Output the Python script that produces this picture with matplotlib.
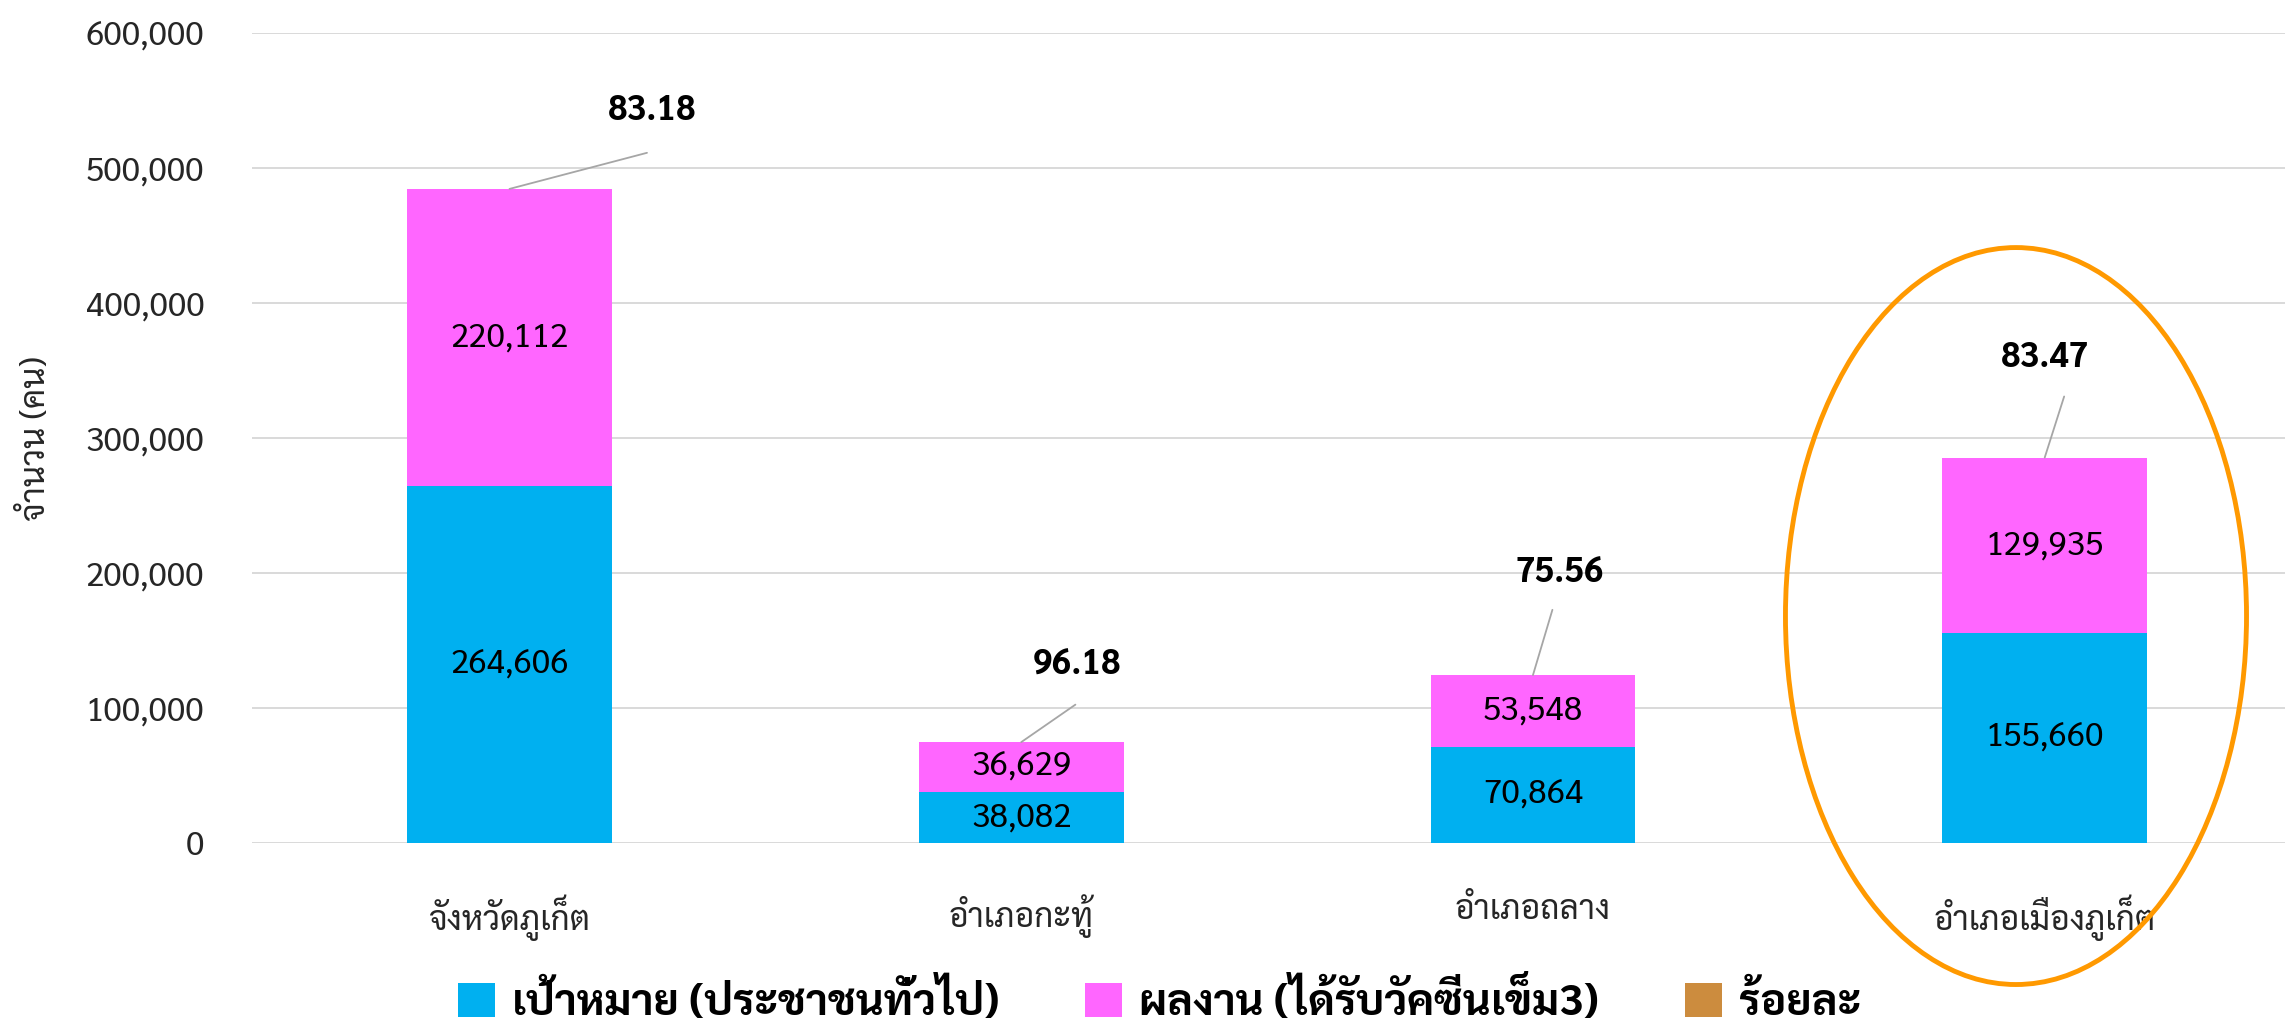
import matplotlib
matplotlib.use("Agg")
import matplotlib.pyplot as plt
from matplotlib.patches import Ellipse, Patch
import numpy as np

# ฟอนต์ไทย (มี fallback)
plt.rcParams['font.family'] = ['Sarabun', 'Noto Sans Thai', 'DejaVu Sans']

categories = ["จังหวัดภูเก็ต", "อำเภอกะทู้", "อำเภอถลาง", "อำเภอเมืองภูเก็ต"]
target = [264606, 38082, 70864, 155660]
result = [220112, 36629, 53548, 129935]
percent = [83.18, 96.18, 75.56, 83.47]
y_ticks = [0, 100000, 200000, 300000, 400000, 500000, 600000]
series_names = ["เป้าหมาย (ประชาชนทั่วไป)", "ผลงาน (ได้รับวัคซีนเข็ม3)", "ร้อยละ"]
y_title = "จำนวน (คน)"

# ระยะป้ายร้อยละ (จุดปลายเส้น, จุดกลางข้อความ) หน่วย points
pct_offsets = [((99, 26), (103, 56)),
               ((39, 27), (40, 55)),
               ((14, 47), (19, 74)),
               ((14, 44), (0, 72))]

color_target = "#00B0F0"
color_result = "#FF66FF"
color_pct = "#CC8C3E"

fig = plt.figure(figsize=(22.87, 10.30), dpi=100)
ax = fig.add_axes([0.110, 0.1816, 0.889, 0.786])

x = np.arange(len(categories))
width = 0.4
target_arr = np.array(target)
result_arr = np.array(result)
totals = target_arr + result_arr

b1 = ax.bar(x, target_arr, width, color=color_target, label=series_names[0], zorder=3)
b2 = ax.bar(x, result_arr, width, bottom=target_arr, color=color_result, label=series_names[1], zorder=3)

ax.bar_label(b1, labels=[f"{v:,}" for v in target], label_type='center', fontsize=24, color='black')
ax.bar_label(b2, labels=[f"{v:,}" for v in result], label_type='center', fontsize=24, color='black')

# ป้ายร้อยละพร้อมเส้นโยง
for i, (p, (line_off, text_off)) in enumerate(zip(percent, pct_offsets)):
    ax.annotate("", xy=(x[i], totals[i]), xytext=line_off, textcoords='offset points',
                arrowprops=dict(arrowstyle='-', color='#A6A6A6', lw=1.3, shrinkA=0, shrinkB=0))
    ax.annotate(f"{p:.2f}", xy=(x[i], totals[i]), xytext=text_off, textcoords='offset points',
                ha='center', va='center', fontsize=25, fontweight='bold')

ax.set_xlim(-0.504, 3.469)
ax.set_ylim(0, 600000)
ax.set_yticks(y_ticks)
ax.set_yticklabels([f"{v:,}" for v in y_ticks])
ax.set_xticks(x)
ax.set_xticklabels(categories)
ax.tick_params(axis='y', length=0, pad=34, labelsize=24, labelcolor='#262626')
ax.tick_params(axis='x', length=0, pad=37, labelsize=24, labelcolor='#262626')
ax.grid(axis='y', color='#D9D9D9', linewidth=1.4, zorder=0)
ax.set_axisbelow(True)
for s in ax.spines.values():
    s.set_visible(False)

ax.set_ylabel(y_title, fontsize=24, color='#262626')
ax.yaxis.set_label_coords(-0.098, 0.5)

pct_handle = Patch(facecolor=color_pct, label=series_names[2])
fig.legend(handles=[b1, b2, pct_handle], loc='lower center', bbox_to_anchor=(0.507, -0.024), ncol=3,
           frameon=False, prop={'size': 31, 'weight': 'bold'}, handlelength=0.85, handleheight=0.85,
           handletextpad=0.4, columnspacing=2.0, borderpad=0.2)

# วงรีเน้น อำเภอเมืองภูเก็ต
ell = Ellipse((0.8815, 0.4019), 0.2016, 0.7155, transform=fig.transFigure,
              fill=False, edgecolor='#FF9900', linewidth=3.5)
fig.patches.append(ell)

fig.savefig("out.png", dpi=100)
